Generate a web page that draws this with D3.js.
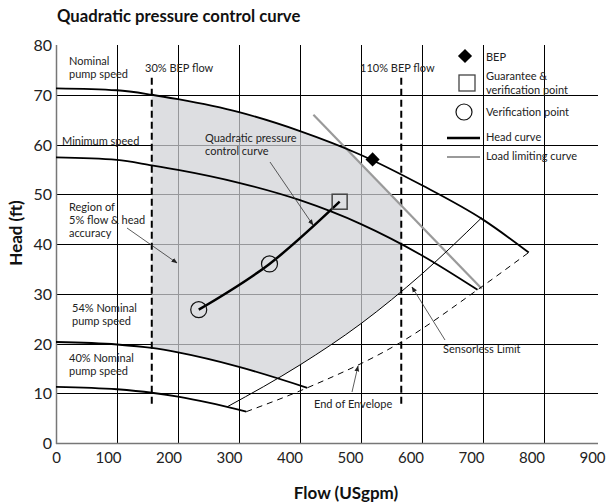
<!DOCTYPE html>
<html><head><meta charset="utf-8">
<script src="https://cdn.jsdelivr.net/npm/d3@7"></script>
<style>
body{margin:0;background:#fff}
svg{display:block;font-family:Lato,"Open Sans",sans-serif}
</style>
</head><body><svg id="c" width="607" height="503"></svg>
<script>
// ---------------- data ----------------
const flowTicks = [0,100,200,300,400,500,600,700,800,900];
const headTicks = [0,10,20,30,40,50,60,70,80];
const nominalCurve = [[0,71.3],[100,70.9],[157,70.0],[200,69.1],[300,66.5],[400,62.7],[500,57.9],[600,51.8],[700,44.9],[775,38.3]];
const minSpeedCurve = [[0,57.4],[100,56.9],[157,55.8],[200,54.9],[300,52.3],[400,48.8],[500,44.0],[600,37.7],[691,30.8]];
const speed54Curve = [[0,20.3],[100,19.8],[157,19.1],[200,18.2],[300,15.3],[412,11.1]];
const speed40Curve = [[0,11.3],[100,10.8],[157,10.1],[200,9.3],[250,8.1],[312,6.3]];
const sensorlessLimit = [[281,7.3],[400,15.7],[500,24.0],[600,34.0],[698,45.3]];
const endOfEnvelope = [[312,6.3],[412,11.1],[566,20.3],[691,30.8],[775,38.3]];
const loadLimit = [[422,66.0],[698,31.0]];
const quadCurve = [[234,26.8],[350,36.0],[465,48.5]];
const verificationPoints = [[234,26.8],[350,36.0]];
const guaranteePoint = [465,48.5];
const bepPoint = [519,57.0];
const bepFlowLines = [157,566];
const bepFlowLineHeads = [7.7,73.4];

// ---------------- layout ----------------
const svg = d3.select("#c");
const x = d3.scaleLinear().domain([0,900]).range([56,605]);
const y = d3.scaleLinear().domain([0,80]).range([443,45]);
const yGrid = y.copy().interpolate(d3.interpolateRound);
const plotRight = 598, plotTop = 45;
const defs = svg.append("defs");

// title
svg.append("text").attr("x",57).attr("y",22).attr("font-weight","bold").attr("font-size",16.7)
  .attr("fill","#111").text("Quadratic pressure control curve");

// grid + axes
const gx = svg.append("g").attr("transform",`translate(0,${y(0)})`)
  .call(d3.axisBottom(x).tickValues(flowTicks).tickSize(-(y(0)-plotTop)).tickPadding(9));
gx.select(".domain").remove();
gx.selectAll(".tick line").attr("stroke","#000").attr("stroke-width",1)
  .attr("display",d=>(d===0||d===900)?"none":null);
gx.selectAll(".tick text").attr("font-size",15).attr("fill","#222").attr("font-family","Lato")
  .attr("dx",d=>d>0?-(8.5+d/200):0);

const gy = svg.append("g").attr("transform",`translate(${x(0)},0)`)
  .call(d3.axisLeft(yGrid).tickValues(headTicks).tickSize(-(plotRight-x(0))).tickPadding(4));
gy.select(".domain").remove();
gy.selectAll(".tick line").attr("stroke","#000").attr("stroke-width",1)
  .attr("display",d=>(d===0||d===80)?"none":null);
gy.selectAll(".tick text").attr("font-size",16).attr("fill","#222").attr("font-family","Lato");

// ---------------- shaded region (clip intersections) ----------------
const curve = d3.curveMonotoneX;
const line = d3.line().x(d=>x(d[0])).y(d=>y(d[1])).curve(curve);
const areaAbove = d3.area().x(d=>x(d[0])).y0(y(95)).y1(d=>y(d[1])).curve(curve);
const areaBelow = d3.area().x(d=>x(d[0])).y0(y(-10)).y1(d=>y(d[1])).curve(curve);

function clip(id, build){ const c = defs.append("clipPath").attr("id",id); build(c); return `url(#${id})`; }
const c1 = clip("cFlow", c=>c.append("rect").attr("x",x(bepFlowLines[0])).attr("width",x(bepFlowLines[1])-x(bepFlowLines[0]))
  .attr("y",0).attr("height",503));
const c2 = clip("cNom", c=>c.append("path").attr("d",areaBelow(nominalCurve)));
const c3 = clip("c54", c=>{ c.append("path").attr("d",areaAbove(speed54Curve));
  const last = speed54Curve[speed54Curve.length-1][0];
  c.append("rect").attr("x",x(last)-0.5).attr("width",607).attr("y",0).attr("height",503); });
const c4 = clip("cSens", c=>{ c.append("path").attr("d",areaAbove(sensorlessLimit));
  c.append("rect").attr("x",0).attr("width",x(sensorlessLimit[0][0])+0.5).attr("y",0).attr("height",503); });
const c5 = clip("cLoad", c=>c.append("path").attr("d",d3.line()([
  [x(0),y(-10)],[x(0),y(95)],[x(loadLimit[0][0]),y(95)],
  [x(loadLimit[0][0]),y(loadLimit[0][1])],[x(loadLimit[1][0]),y(loadLimit[1][1])],[x(loadLimit[1][0]),y(-10)]])+"Z"));

svg.append("g").attr("clip-path",c1)
  .append("g").attr("clip-path",c2)
  .append("g").attr("clip-path",c3)
  .append("g").attr("clip-path",c4)
  .append("g").attr("clip-path",c5)
  .append("rect").attr("x",0).attr("y",0).attr("width",607).attr("height",503)
  .attr("fill","rgb(208,209,213)").attr("fill-opacity",0.72);

// axis lines
svg.append("line").attr("x1",x(0)+0.5).attr("x2",x(0)+0.5).attr("y1",plotTop).attr("y2",y(0)+1)
  .attr("stroke","#777").attr("stroke-width",1.5);
svg.append("line").attr("x1",x(0)).attr("x2",plotRight).attr("y1",y(0)+0.5).attr("y2",y(0)+0.5)
  .attr("stroke","#777").attr("stroke-width",1.5);

// BEP flow dashed lines
svg.append("g").selectAll("line").data(bepFlowLines).join("line")
  .attr("x1",d=>x(d)).attr("x2",d=>x(d)).attr("y1",y(bepFlowLineHeads[1])).attr("y2",y(bepFlowLineHeads[0]))
  .attr("stroke","#000").attr("stroke-width",2).attr("stroke-dasharray","7,4");

// load limiting curve
svg.append("path").attr("d",d3.line().x(d=>x(d[0])).y(d=>y(d[1]))(loadLimit))
  .attr("fill","none").attr("stroke","#9a9a9a").attr("stroke-width",2.2);

// head curves
[nominalCurve,minSpeedCurve,speed54Curve,speed40Curve].forEach(c=>{
  svg.append("path").attr("d",line(c)).attr("fill","none").attr("stroke","#000").attr("stroke-width",1.8);
});
// sensorless limit
svg.append("path").attr("d",line(sensorlessLimit)).attr("fill","none").attr("stroke","#000").attr("stroke-width",1);
// end of envelope
svg.append("path").attr("d",line(endOfEnvelope)).attr("fill","none").attr("stroke","#000")
  .attr("stroke-width",1).attr("stroke-dasharray","6,5");
// quadratic control curve
svg.append("path").attr("d",d3.line().x(d=>x(d[0])).y(d=>y(d[1])).curve(d3.curveNatural)(quadCurve))
  .attr("fill","none").attr("stroke","#000").attr("stroke-width",2.5);

// markers
svg.append("g").selectAll("circle").data(verificationPoints).join("circle")
  .attr("cx",d=>x(d[0])).attr("cy",d=>y(d[1])).attr("r",8)
  .attr("fill","none").attr("stroke","#111").attr("stroke-width",1.2);
svg.append("rect").attr("x",x(guaranteePoint[0])-7.5).attr("y",y(guaranteePoint[1])-7.5)
  .attr("width",15).attr("height",15).attr("fill","none").attr("stroke","#444").attr("stroke-width",1.5);
svg.append("path").attr("d",d3.symbol(d3.symbolSquare,100)())
  .attr("transform",`translate(${x(bepPoint[0])},${y(bepPoint[1])}) rotate(45)`).attr("fill","#000");

// annotation arrows
defs.append("marker").attr("id","arr").attr("viewBox","0 0 10 10").attr("refX",9).attr("refY",5)
  .attr("markerWidth",6).attr("markerHeight",6).attr("orient","auto-start-reverse").attr("markerUnits","userSpaceOnUse")
  .append("path").attr("d","M0,1L10,5L0,9Z").attr("fill","#222");
const arrows = [[270,162,313,225],[127,228,177,263],[445,340,412,287],[352,392,358,366]];
svg.append("g").selectAll("line").data(arrows).join("line")
  .attr("x1",d=>d[0]).attr("y1",d=>d[1]).attr("x2",d=>d[2]).attr("y2",d=>d[3])
  .attr("stroke","#333").attr("stroke-width",0.8).attr("marker-end","url(#arr)");

// labels
const labels = [
  ["Nominal",69,65],["pump speed",69,78],
  ["30% BEP flow",145,72],["110% BEP flow",360,72],
  ["Minimum speed",62,145],
  ["Quadratic pressure",205,142],["control curve",205,155],
  ["Region of",69,211],["5% flow & head",69,224],["accuracy",69,237],
  ["54% Nominal",72,312],["pump speed",72,325],
  ["40% Nominal",69,362],["pump speed",69,375],
  ["Sensorless Limit",443,353],["End of Envelope",314,408]
];
svg.append("g").selectAll("text").data(labels).join("text")
  .attr("x",d=>d[1]).attr("y",d=>d[2]).attr("font-size",11).attr("fill","#222").text(d=>d[0]);

// legend
const lg = svg.append("g");
lg.append("path").attr("d",d3.symbol(d3.symbolSquare,100)()).attr("transform","translate(465,56) rotate(45)").attr("fill","#000");
lg.append("rect").attr("x",459).attr("y",75).attr("width",16).attr("height",16).attr("fill","none").attr("stroke","#444").attr("stroke-width",1.3);
lg.append("circle").attr("cx",464).attr("cy",112).attr("r",8).attr("fill","none").attr("stroke","#111").attr("stroke-width",1.2);
lg.append("line").attr("x1",447).attr("x2",480).attr("y1",138).attr("y2",138).attr("stroke","#000").attr("stroke-width",2.5);
lg.append("line").attr("x1",447).attr("x2",480).attr("y1",157).attr("y2",157).attr("stroke","#9a9a9a").attr("stroke-width",2);
const legendText = [["BEP",61],["Guarantee &",80],["verification point",94],["Verification point",116],["Head curve",141],["Load limiting curve",160]];
lg.selectAll("text").data(legendText).join("text").attr("x",486).attr("y",d=>d[1])
  .attr("font-size",11).attr("fill","#222").text(d=>d[0]);

// axis titles
svg.append("text").attr("transform","translate(22,233) rotate(-90)").attr("text-anchor","middle")
  .attr("font-weight","bold").attr("font-size",17).attr("fill","#111").text("Head (ft)");
svg.append("text").attr("x",346).attr("y",499).attr("text-anchor","middle")
  .attr("font-weight","bold").attr("font-size",17).attr("fill","#111").text("Flow (USgpm)");
</script>
</body></html>
